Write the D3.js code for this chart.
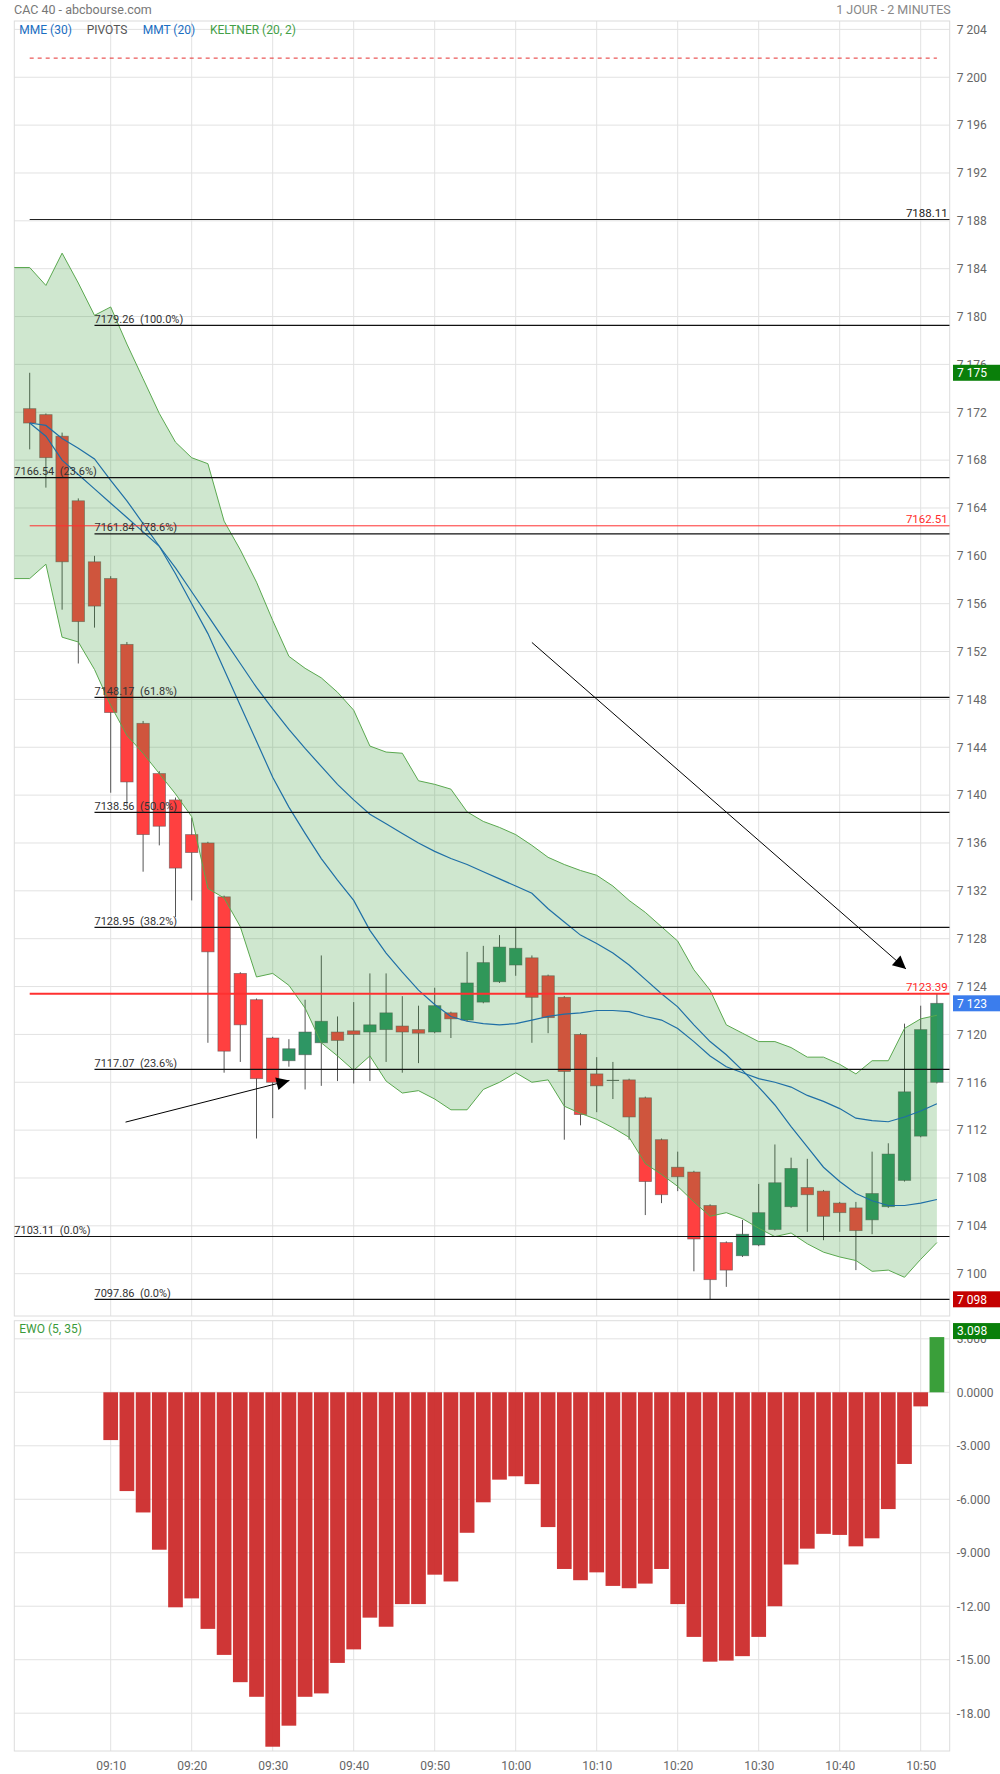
<!DOCTYPE html>
<html><head><meta charset="utf-8">
<script src="https://cdn.jsdelivr.net/npm/d3@7"></script>
<style>
body{margin:0;background:#fff;}
svg{display:block;font-family:Roboto,"Noto Sans",sans-serif;}
</style></head><body>
<svg id="chart" width="1000" height="1774"></svg>
<script>
// ---------- DATA ----------
const times = ["09:00","09:02","09:04","09:06","09:08","09:10","09:12","09:14","09:16","09:18","09:20","09:22","09:24","09:26","09:28","09:30","09:32","09:34","09:36","09:38","09:40","09:42","09:44","09:46","09:48","09:50","09:52","09:54","09:56","09:58","10:00","10:02","10:04","10:06","10:08","10:10","10:12","10:14","10:16","10:18","10:20","10:22","10:24","10:26","10:28","10:30","10:32","10:34","10:36","10:38","10:40","10:42","10:44","10:46","10:48","10:50","10:52"];
const openP = [7172.3,7171.8,7170.0,7164.6,7159.5,7158.1,7152.6,7146.0,7141.8,7139.6,7136.7,7136.0,7131.5,7125.1,7122.9,7119.7,7117.8,7118.3,7119.3,7120.2,7120.3,7120.2,7120.4,7120.7,7120.4,7120.2,7121.8,7121.2,7122.7,7124.4,7125.8,7126.4,7124.9,7123.1,7120.0,7116.7,7116.2,7116.2,7114.7,7111.2,7108.9,7108.5,7105.7,7102.6,7101.5,7102.4,7103.7,7105.6,7107.2,7106.9,7105.9,7105.5,7104.5,7105.6,7107.8,7111.5,7116.0];
const highP = [7175.3,7171.9,7170.3,7164.8,7160.0,7158.3,7152.8,7146.2,7142.0,7139.8,7138.1,7136.1,7131.6,7125.2,7123.0,7119.8,7119.6,7122.9,7126.6,7121.5,7122.7,7125.1,7125.1,7123.2,7122.4,7123.9,7121.9,7126.9,7127.4,7128.3,7128.9,7126.6,7125.0,7123.2,7120.1,7118.1,7117.7,7116.3,7114.8,7111.3,7110.2,7108.6,7105.8,7102.7,7104.5,7107.5,7110.8,7109.7,7109.6,7107.0,7106.0,7106.0,7110.2,7110.9,7120.9,7122.4,7123.39];
const lowP = [7168.9,7165.7,7155.5,7151.0,7154.0,7140.2,7139.2,7133.6,7135.8,7129.8,7131.2,7119.3,7116.8,7117.7,7111.3,7113.0,7117.3,7115.4,7115.7,7116.1,7115.9,7116.1,7117.7,7116.8,7117.6,7120.1,7119.7,7121.1,7122.6,7124.3,7124.9,7119.3,7120.1,7111.2,7112.4,7113.5,7114.6,7111.2,7104.9,7105.9,7106.9,7100.2,7097.86,7098.9,7101.4,7102.3,7103.6,7105.5,7103.5,7102.8,7103.5,7100.3,7103.3,7105.5,7107.7,7111.4,7115.9];
const closeP = [7171.1,7168.2,7159.5,7154.5,7155.8,7146.9,7141.1,7136.7,7137.4,7133.9,7135.2,7126.9,7118.6,7120.8,7116.3,7116.0,7118.8,7120.2,7121.1,7119.5,7120.0,7120.8,7121.8,7120.2,7120.1,7122.4,7121.3,7124.3,7126.0,7127.3,7127.2,7123.1,7121.4,7116.9,7113.3,7115.7,7116.2,7113.1,7107.7,7106.6,7108.1,7102.9,7099.5,7100.3,7103.3,7105.1,7107.6,7108.8,7106.6,7104.8,7105.1,7103.6,7106.7,7110.0,7115.2,7120.4,7122.6];

const bandTimes = ["08:58"].concat(times);
const keltnerUpper = [7184.1,7184.1,7182.6,7185.3,7182.8,7180.1,7180.8,7177.7,7174.8,7171.9,7169.5,7168.2,7167.7,7162.9,7160.5,7157.8,7154.6,7151.6,7150.6,7149.8,7148.6,7147.1,7144.1,7143.6,7143.5,7141.2,7140.9,7140.5,7138.6,7137.8,7137.3,7136.7,7135.8,7134.8,7134.2,7133.7,7133.3,7132.4,7131.2,7130.2,7129.0,7127.8,7125.4,7123.7,7120.8,7120.1,7119.4,7119.4,7118.9,7118.1,7118.1,7117.5,7116.7,7117.8,7117.8,7120.5,7121.3,7121.6];
const keltnerLower = [7158.1,7158.1,7159.3,7153.2,7152.8,7150.5,7147.5,7145.0,7143.5,7141.8,7140.1,7138.2,7132.2,7131.4,7129.0,7124.8,7125.1,7124.1,7122.2,7119.3,7118.2,7117.0,7118.2,7116.1,7115.1,7115.3,7114.6,7113.7,7113.7,7115.4,7116.0,7116.8,7116.0,7116.2,7114.0,7113.4,7112.9,7112.2,7111.4,7109.2,7108.3,7107.3,7106.0,7104.8,7105.1,7104.6,7103.8,7103.1,7103.4,7102.5,7101.8,7101.4,7101.1,7100.2,7100.3,7099.7,7101.2,7102.6];
const mmt20 = [7171.1,7170.0,7168.0,7166.8,7165.6,7164.4,7163.2,7162.0,7160.8,7158.5,7156.0,7153.5,7150.5,7147.5,7144.5,7141.5,7139.0,7136.8,7134.7,7132.9,7131.2,7128.7,7126.8,7125.2,7123.7,7122.5,7121.5,7121.1,7120.9,7120.8,7120.9,7121.2,7121.5,7121.7,7121.8,7122.0,7122.0,7121.9,7121.5,7121.2,7120.5,7119.4,7118.2,7117.3,7116.8,7116.3,7116.0,7115.6,7114.9,7114.4,7113.8,7113.0,7112.8,7112.7,7113.1,7113.6,7114.2];
const mme30 = [7171.1,7170.9,7169.8,7169.0,7168.1,7166.3,7164.6,7162.7,7160.8,7159.0,7157.0,7155.0,7153.0,7151.0,7149.0,7147.2,7145.5,7143.9,7142.4,7140.9,7139.6,7138.4,7137.6,7136.8,7136.0,7135.3,7134.7,7134.2,7133.6,7133.0,7132.4,7131.8,7130.5,7129.4,7128.3,7127.6,7126.8,7125.8,7124.6,7123.4,7122.3,7120.8,7119.4,7118.3,7117.0,7115.6,7114.1,7112.3,7110.6,7108.9,7107.7,7106.7,7106.1,7105.7,7105.7,7105.9,7106.2];
const ewo = [null,null,null,null,null,-2.68,-5.54,-6.74,-8.83,-12.06,-11.56,-13.27,-14.73,-16.26,-17.08,-19.88,-18.70,-17.08,-16.89,-15.18,-14.42,-12.64,-13.15,-11.88,-11.88,-10.23,-10.61,-7.88,-6.17,-4.90,-4.71,-5.15,-7.56,-9.91,-10.54,-10.10,-10.86,-10.99,-10.73,-9.91,-11.88,-13.72,-15.11,-15.05,-14.80,-13.72,-12.00,-9.66,-8.77,-7.94,-8.00,-8.64,-8.19,-6.55,-4.02,-0.79,3.098];

const priceTicks = [7100,7104,7108,7112,7116,7120,7124,7128,7132,7136,7140,7144,7148,7152,7156,7160,7164,7168,7172,7176,7180,7184,7188,7192,7196,7200,7204];
const ewoTicks = [3,0,-3,-6,-9,-12,-15,-18];
const ewoTickLabels = ["3.000","0.0000","-3.000","-6.000","-9.000","-12.00","-15.00","-18.00"];
const timeTicks = ["09:10","09:20","09:30","09:40","09:50","10:00","10:10","10:20","10:30","10:40","10:50"];

const fibValues = [7179.26,7166.54,7161.84,7148.17,7138.56,7128.95,7117.07,7103.11,7097.86];
const fibLabels = ["7179.26  (100.0%)","7166.54  (23.6%)","7161.84  (78.6%)","7148.17  (61.8%)","7138.56  (50.0%)","7128.95  (38.2%)","7117.07  (23.6%)","7103.11  (0.0%)","7097.86  (0.0%)"];
const fibStart = ["09:08","08:58","09:08","09:08","09:08","09:08","09:08","08:58","09:08"];

const pivotValues = [7188.11,7162.51,7123.39];
const pivotLabels = ["7188.11","7162.51","7123.39"];
const pivotColors = ["#222","#ff3030","#ff3030"];
const pivotWidths = [1,1,2];
const dashedPivot = 7201.6;

const arrowStart = [["10:02:00",7152.76],["09:11:50",7112.67]];
const arrowEnd = [["10:48:11",7125.47],["09:32:04",7116.15]];

const tagHigh = 7175.3, tagLow = 7097.86, tagLast = 7122.6, tagEwo = 3.098;

// ---------- LAYOUT ----------
const L = 14.3, R = 949.7, pTop = 21, pBot = 1316, eTop = 1320.7, eBot = 1751;
const parseT = d3.timeParse("%H:%M");
const parseTS = d3.timeParse("%H:%M:%S");
const x = d3.scaleTime().domain([parseT("09:00"), parseT("10:50")]).range([29.7, 920.7]);
const y = d3.scaleLinear().domain([7204, 7100]).range([29.4, 1273.7]);
const yE = d3.scaleLinear().domain([0, -18]).range([1392.3, 1713.2]);
const fr = d3.formatLocale({decimal:".", thousands:" ", grouping:[3], currency:["",""]});
const fmt = fr.format(",");

const svg = d3.select("#chart");
const defs = svg.append("defs");
defs.append("clipPath").attr("id","cp").append("rect").attr("x",L).attr("y",pTop).attr("width",R-L).attr("height",pBot-pTop);
defs.append("clipPath").attr("id","ce").append("rect").attr("x",L).attr("y",eTop).attr("width",R-L).attr("height",eBot-eTop);
defs.append("marker").attr("id","ah").attr("viewBox","-14 -8 16 16").attr("refX",0).attr("refY",0)
  .attr("markerWidth",16).attr("markerHeight",16).attr("markerUnits","userSpaceOnUse").attr("orient","auto")
  .append("path").attr("d","M0,0L-13,-6.5L-13,6.5Z").attr("fill","#000");

// header
svg.append("text").attr("x",14).attr("y",13.5).attr("font-size",12.5).attr("fill","#777").text("CAC 40 - abcbourse.com");
svg.append("text").attr("x",R+1).attr("y",13.5).attr("text-anchor","end").attr("font-size",12.5).attr("fill","#888").text("1 JOUR - 2 MINUTES");

// grids
const gp = svg.append("g");
gp.selectAll(".hg").data(priceTicks).join("line").attr("x1",L).attr("x2",R).attr("y1",d=>y(d)).attr("y2",d=>y(d)).attr("stroke","#e2e2e2");
gp.selectAll(".vg").data(timeTicks).join("line").attr("x1",d=>x(parseT(d))).attr("x2",d=>x(parseT(d))).attr("y1",pTop).attr("y2",pBot).attr("stroke","#e2e2e2");
const ge = svg.append("g");
ge.selectAll("line.h").data(ewoTicks).join("line").attr("x1",L).attr("x2",R).attr("y1",d=>yE(d)).attr("y2",d=>yE(d)).attr("stroke","#e2e2e2");
ge.selectAll("line.v").data(timeTicks).join("line").attr("x1",d=>x(parseT(d))).attr("x2",d=>x(parseT(d))).attr("y1",eTop).attr("y2",eBot).attr("stroke","#e2e2e2");
svg.append("rect").attr("x",L).attr("y",pTop).attr("width",R-L).attr("height",pBot-pTop).attr("fill","none").attr("stroke","#dcdcdc");
svg.append("rect").attr("x",L).attr("y",eTop).attr("width",R-L).attr("height",eBot-eTop).attr("fill","none").attr("stroke","#dcdcdc");

// price panel content
const pc = svg.append("g").attr("clip-path","url(#cp)");
const cand = times.map((t,i)=>({t:parseT(t),o:openP[i],h:highP[i],l:lowP[i],c:closeP[i]}));
pc.selectAll("line.wick").data(cand).join("line").attr("x1",d=>x(d.t)).attr("x2",d=>x(d.t)).attr("y1",d=>y(d.h)).attr("y2",d=>y(d.l)).attr("stroke","#555").attr("stroke-width",1);
pc.selectAll("rect.body").data(cand).join("rect")
  .attr("x",d=>x(d.t)-6.2).attr("width",12.4)
  .attr("y",d=>y(Math.max(d.o,d.c)))
  .attr("height",d=>Math.max(1,Math.abs(y(d.o)-y(d.c))))
  .attr("fill",d=>d.c>d.o?"#2e9664":(d.c<d.o?"#ff4040":"#555"))
  .attr("stroke",d=>d.c===d.o?"none":"rgba(80,80,80,0.6)").attr("stroke-width",0.8);

const band = bandTimes.map((t,i)=>({t:parseT(t),u:keltnerUpper[i],lo:keltnerLower[i]}));
pc.append("path").datum(band).attr("d",d3.area().x(d=>x(d.t)).y0(d=>y(d.lo)).y1(d=>y(d.u))).attr("fill","rgba(55,155,55,0.24)");
pc.append("path").datum(band).attr("d",d3.line().x(d=>x(d.t)).y(d=>y(d.u))).attr("fill","none").attr("stroke","#5aa84f").attr("stroke-width",1);
pc.append("path").datum(band).attr("d",d3.line().x(d=>x(d.t)).y(d=>y(d.lo))).attr("fill","none").attr("stroke","#5aa84f").attr("stroke-width",1);

[mme30, mmt20].forEach(arr=>{
  pc.append("path").datum(times.map((t,i)=>({t:parseT(t),v:arr[i]})))
    .attr("d",d3.line().x(d=>x(d.t)).y(d=>y(d.v))).attr("fill","none").attr("stroke","#1f6fa6").attr("stroke-width",1.2);
});

// pivots
pc.append("line").attr("x1",x(parseT(times[0]))).attr("x2",x(parseT(times[times.length-1]))).attr("y1",y(dashedPivot)).attr("y2",y(dashedPivot))
  .attr("stroke","#e53030").attr("stroke-dasharray","4,4").attr("stroke-width",1);
pivotValues.forEach((v,i)=>{
  pc.append("line").attr("x1",x(parseT(times[0]))).attr("x2",R).attr("y1",y(v)).attr("y2",y(v)).attr("stroke",pivotColors[i]).attr("stroke-width",pivotWidths[i]);
  svg.append("text").attr("x",R-2).attr("y",y(v)-3).attr("text-anchor","end").attr("font-size",11.5).attr("fill",pivotColors[i]==="#222"?"#222":"#ff2a2a").text(pivotLabels[i]);
});
// fibs
fibValues.forEach((v,i)=>{
  const xs = x(parseT(fibStart[i]));
  pc.append("line").attr("x1",xs).attr("x2",R).attr("y1",y(v)).attr("y2",y(v)).attr("stroke","#111").attr("stroke-width",1.2);
  svg.append("text").attr("x",Math.max(xs,L)).attr("y",y(v)-2.5).attr("font-size",11).attr("fill","#333").style("white-space","pre").text(fibLabels[i]);
});
// arrows
arrowStart.forEach((s,i)=>{
  const e = arrowEnd[i];
  pc.append("line").attr("x1",x(parseTS(s[0]))).attr("y1",y(s[1])).attr("x2",x(parseTS(e[0]))).attr("y2",y(e[1]))
    .attr("stroke","#000").attr("stroke-width",1).attr("marker-end","url(#ah)");
});

// legend
const leg = [["MME (30)",19.3,"#1b6ec2"],["PIVOTS",86.7,"#555"],["MMT (20)",142.7,"#1b6ec2"],["KELTNER (20, 2)",210,"#43a047"]];
leg.forEach(d=>svg.append("text").attr("x",d[1]).attr("y",33.5).attr("font-size",12).attr("fill",d[2]).text(d[0]));

// price axis
const ay = svg.append("g").attr("transform",`translate(${R},0)`).call(d3.axisRight(y).tickValues(priceTicks).tickFormat(fmt).tickSize(0).tickPadding(7));
ay.select(".domain").remove();
ay.selectAll("text").attr("font-size",12).attr("fill","#666").attr("font-family","Roboto");

// tags
function tag(yy, bg, label){
  svg.append("rect").attr("x",953).attr("y",yy-8).attr("width",47).attr("height",16).attr("fill",bg);
  svg.append("text").attr("x",957).attr("y",yy+4.3).attr("font-size",12).attr("fill","#fff").text(label);
}
tag(y(tagHigh),"#0a7f0a",fmt(Math.round(tagHigh)));
tag(y(tagLast),"#3b7ded",fmt(Math.round(tagLast)));
tag(y(tagLow),"#c40000",fmt(Math.round(tagLow)));

// EWO
const ec = svg.append("g").attr("clip-path","url(#ce)");
const ed = times.map((t,i)=>({t:parseT(t),v:ewo[i]})).filter(d=>d.v!==null);
ec.selectAll("rect").data(ed).join("rect")
  .attr("x",d=>x(d.t)-7.35).attr("width",14.7)
  .attr("y",d=>yE(Math.max(0,d.v))).attr("height",d=>Math.abs(yE(d.v)-yE(0)))
  .attr("fill",d=>d.v>=0?"#2f9a2f":"#cc2b2b").attr("fill-opacity",0.95);
svg.append("text").attr("x",19.3).attr("y",1333).attr("font-size",12).attr("fill","#3a9a3a").text("EWO (5, 35)");
const ae = svg.append("g").attr("transform",`translate(${R},0)`).call(d3.axisRight(yE).tickValues(ewoTicks).tickFormat((d,i)=>ewoTickLabels[i]).tickSize(0).tickPadding(7));
ae.select(".domain").remove();
ae.selectAll("text").attr("font-size",12).attr("fill","#666").attr("font-family","Roboto");
svg.append("rect").attr("x",953).attr("y",yE(tagEwo)-14).attr("width",47).attr("height",16).attr("fill","#0a7f0a");
svg.append("text").attr("x",957).attr("y",yE(tagEwo)-1.7).attr("font-size",12).attr("fill","#fff").text(d3.format(".3f")(tagEwo));

// time axis
const ax = svg.append("g").attr("transform",`translate(0,${eBot})`).call(d3.axisBottom(x).tickValues(timeTicks.map(parseT)).tickFormat(d3.timeFormat("%H:%M")).tickSize(0).tickPadding(10));
ax.select(".domain").remove();
ax.selectAll("text").attr("font-size",12).attr("fill","#666").attr("font-family","Roboto");
</script>
</body></html>
